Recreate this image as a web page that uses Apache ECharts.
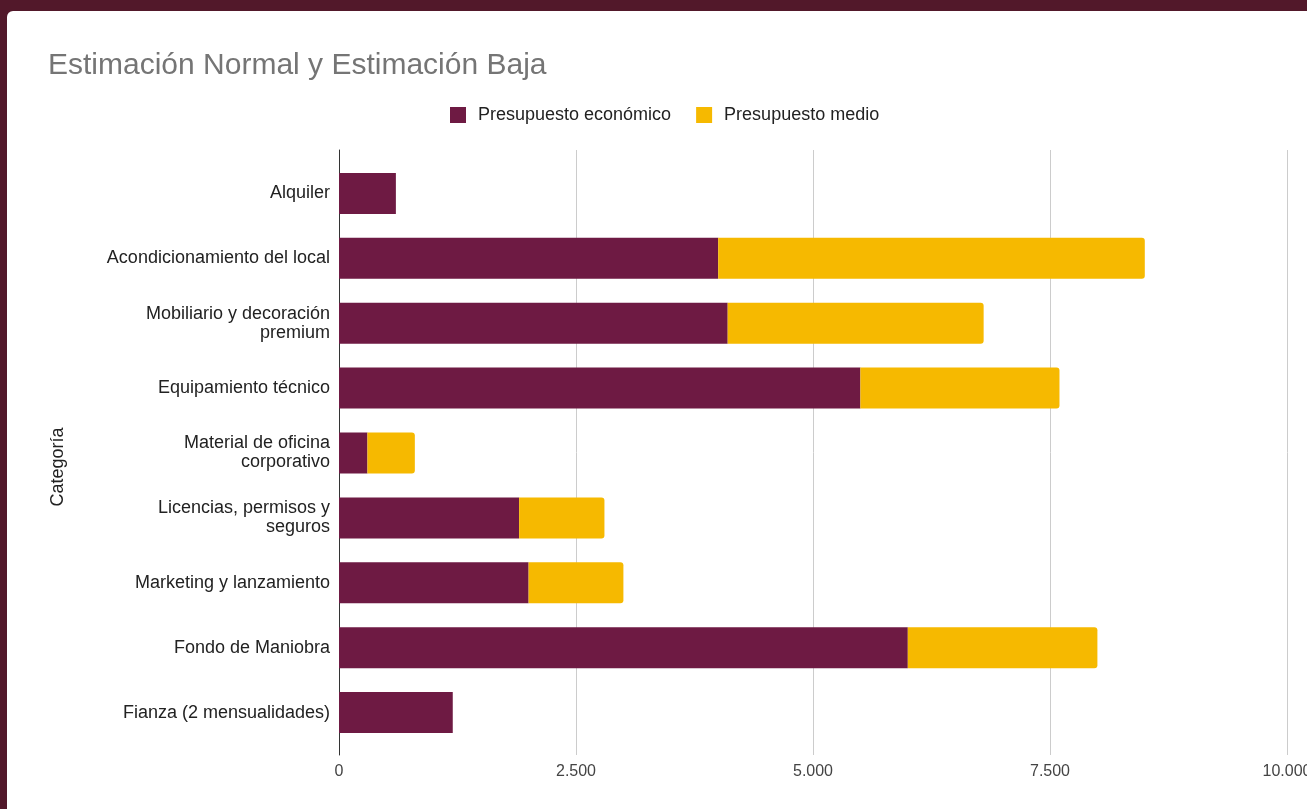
<!DOCTYPE html>
<html>
<head>
<meta charset="utf-8">
<script src="https://cdn.jsdelivr.net/npm/echarts@6/dist/echarts.min.js"></script>
<style>
html, body {
  margin: 0;
  padding: 0;
  width: 1307px;
  height: 809px;
  overflow: hidden;
  background: #52182a;
}
#chart {
  position: absolute;
  left: 7px;
  top: 11px;
  width: 1300px;
  height: 798px;
  background: #ffffff;
  border-top-left-radius: 6px;
}
</style>
</head>
<body>
<div id="chart"></div>
<script>
// categories, top to bottom
const categorias = [
  'Alquiler',
  'Acondicionamiento del local',
  'Mobiliario y decoración\npremium',
  'Equipamiento técnico',
  'Material de oficina\ncorporativo',
  'Licencias, permisos y\nseguros',
  'Marketing y lanzamiento',
  'Fondo de Maniobra',
  'Fianza (2 mensualidades)'
]
const economico = [600, 4000, 4100, 5500, 300, 1900, 2000, 6000, 1200]
const medio = [0, 4500, 2700, 2100, 500, 900, 1000, 2000, 0]
const xTicks = [0, 2500, 5000, 7500, 10000]

const fmt = v => String(v).replace(/\B(?=(\d{3})+(?!\d))/g, '.')

const chart = echarts.init(document.getElementById('chart'))
chart.setOption({
  animation: false,
  textStyle: { fontFamily: 'Liberation Sans, Arial, sans-serif' },
  title: {
    text: 'Estimación Normal y Estimación Baja',
    left: 36,
    top: 35,
    textStyle: { color: '#757575', fontSize: 30, fontWeight: 'normal' }
  },
  legend: {
    top: 90,
    left: 438,
    itemWidth: 16,
    itemHeight: 16,
    itemGap: 25,
    icon: 'rect',
    textStyle: { color: '#222', fontSize: 18, padding: [0, 0, 0, 7] },
    data: ['Presupuesto económico', 'Presupuesto medio']
  },
  grid: [
    // bars
    { left: 332, right: 20, top: 150, bottom: 64, outerBoundsMode: 'none', containLabel: false },
    // gridlines and axis line, a bit taller than the bar band
    { left: 332, right: 20, top: 139, bottom: 54, outerBoundsMode: 'none', containLabel: false }
  ],
  xAxis: [
    {
      type: 'value',
      gridIndex: 0,
      min: xTicks[0],
      max: xTicks[xTicks.length - 1],
      interval: 2500,
      show: false
    },
    {
      type: 'value',
      gridIndex: 1,
      min: xTicks[0],
      max: xTicks[xTicks.length - 1],
      interval: 2500,
      axisLine: { show: false },
      axisTick: { show: false },
      splitLine: { lineStyle: { color: '#cccccc' } },
      axisLabel: { color: '#444', fontSize: 16, margin: 9, formatter: fmt }
    }
  ],
  yAxis: [
    {
      type: 'category',
      gridIndex: 0,
      inverse: true,
      data: categorias,
      name: 'Categoría',
      nameLocation: 'middle',
      nameGap: 272,
      nameTextStyle: { color: '#222', fontSize: 18, padding: [0, 0, 0, -28] },
      axisLine: { show: false },
      axisTick: { show: false },
      axisLabel: { color: '#222', fontSize: 18, margin: 9, lineHeight: 19 }
    },
    {
      type: 'value',
      gridIndex: 1,
      min: 0,
      max: 1,
      axisLine: { show: true, lineStyle: { color: '#333' } },
      axisTick: { show: false },
      axisLabel: { show: false },
      splitLine: { show: false }
    }
  ],
  series: [
    {
      name: 'Presupuesto económico',
      type: 'bar',
      stack: 'total',
      barWidth: 41,
      itemStyle: { color: '#6e1a43' },
      data: economico
    },
    {
      name: 'Presupuesto medio',
      type: 'bar',
      stack: 'total',
      barWidth: 41,
      itemStyle: { color: '#f6b900', borderRadius: [0, 3, 3, 0] },
      data: medio
    }
  ]
})
</script>
</body>
</html>
